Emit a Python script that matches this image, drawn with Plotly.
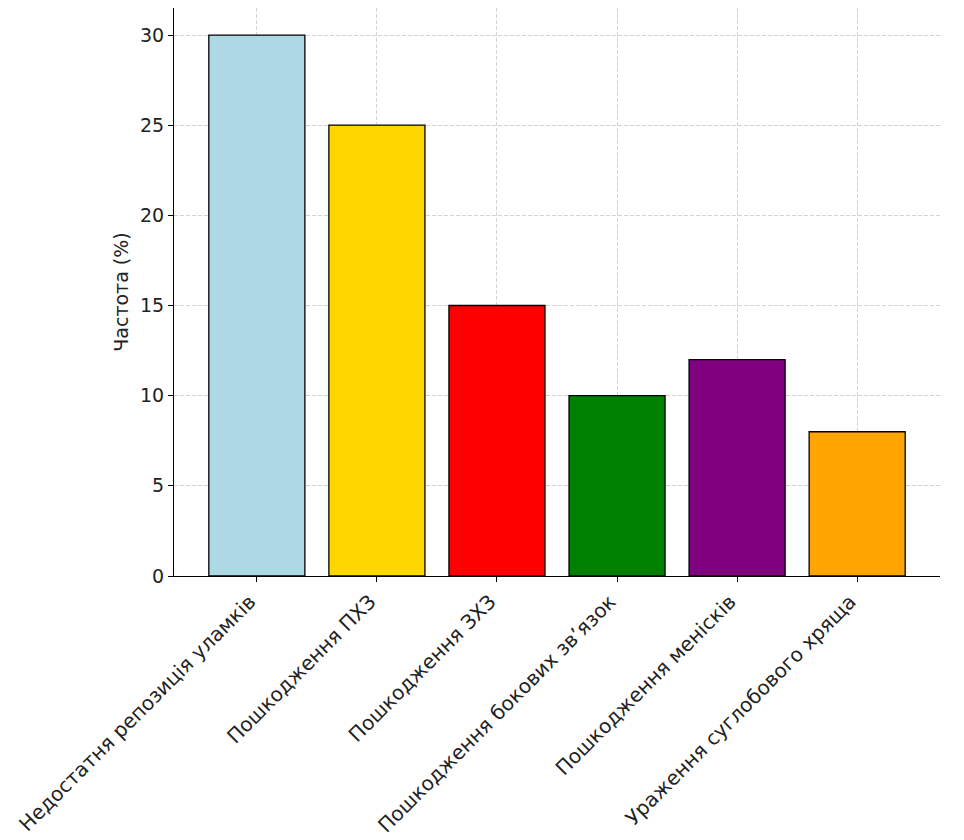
import plotly.graph_objects as go

# complication categories and their frequency (%)
categories = [
    "Недостатня репозиція уламків",
    "Пошкодження ПХЗ",
    "Пошкодження ЗХЗ",
    "Пошкодження бокових зв’язок",
    "Пошкодження менісків",
    "Ураження суглобового хряща",
]
frequency = [30, 25, 15, 10, 12, 8]
bar_colors = ["#ADD8E6", "#FFD700", "#FF0000", "#008000", "#800080", "#FFA500"]

y_ticks = [0, 5, 10, 15, 20, 25, 30]

font_family = "DejaVu Sans"
grid_color = "rgba(175,175,175,0.55)"

fig = go.Figure()
fig.add_trace(go.Bar(
    x=list(range(len(categories))),
    y=frequency,
    width=0.8,
    marker=dict(color=bar_colors, line=dict(color="black", width=1.3)),
    showlegend=False,
))

# the page body adds an 8px offset, margins account for it
fig.update_layout(
    width=964,
    height=840,
    margin=dict(l=166, r=32, t=0, b=272),
    plot_bgcolor="white",
    paper_bgcolor="white",
    font=dict(family=font_family, size=19, color="#222222"),
)

fig.update_xaxes(
    range=[-0.69, 5.69],
    tickmode="array",
    tickvals=list(range(len(categories))),
    ticktext=categories,
    tickangle=-45,
    tickfont=dict(size=20),
    ticklabelshift=-7,
    ticks="outside",
    ticklen=5,
    tickcolor="black",
    showline=True,
    linecolor="black",
    linewidth=1.2,
    showgrid=True,
    gridcolor=grid_color,
    griddash="4px,2px",
    gridwidth=1,
    zeroline=False,
    layer="above traces",
)

fig.update_yaxes(
    range=[0, 31.5],
    tickvals=y_ticks,
    ticks="outside",
    ticklen=5,
    tickcolor="black",
    showline=True,
    linecolor="black",
    linewidth=1.2,
    showgrid=True,
    gridcolor=grid_color,
    griddash="4px,2px",
    gridwidth=1,
    zeroline=False,
    layer="above traces",
    title=dict(text="Частота (%)", font=dict(size=19), standoff=6),
)

fig.write_html("out.html")
